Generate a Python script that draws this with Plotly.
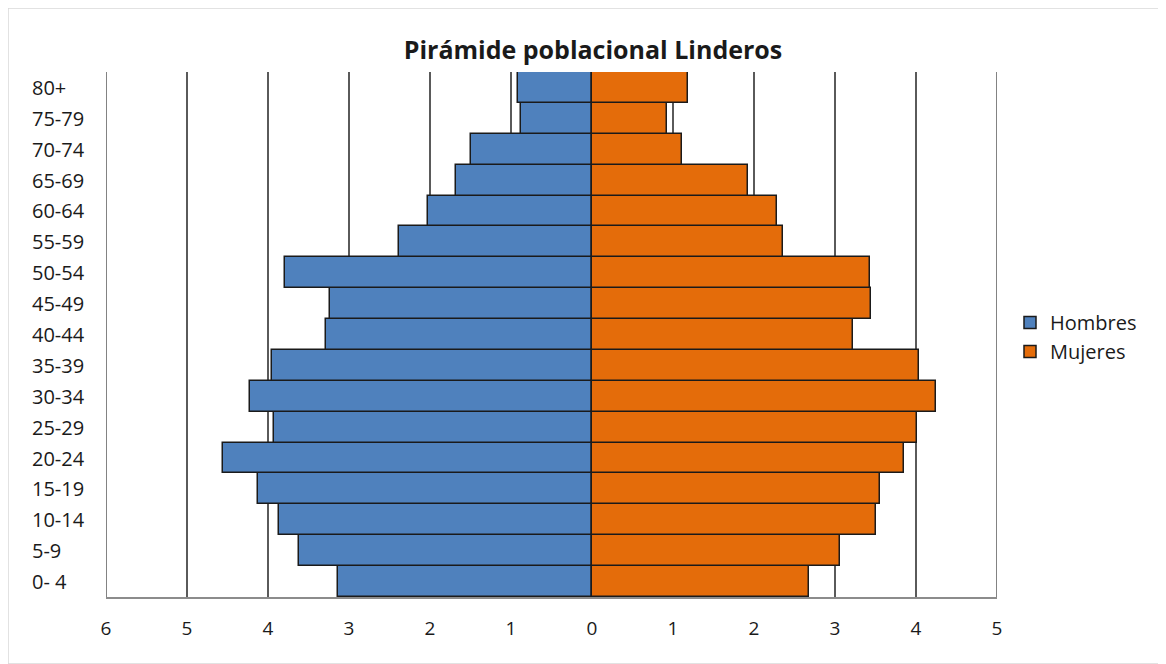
import plotly.graph_objects as go

age_groups = ["0- 4", "5-9", "10-14", "15-19", "20-24", "25-29", "30-34", "35-39",
              "40-44", "45-49", "50-54", "55-59", "60-64", "65-69", "70-74", "75-79", "80+"]
hombres = [3.14, 3.62, 3.86, 4.12, 4.56, 3.93, 4.22, 3.95,
           3.28, 3.24, 3.79, 2.38, 2.02, 1.68, 1.50, 0.88, 0.91]
mujeres = [2.68, 3.06, 3.51, 3.56, 3.85, 4.01, 4.25, 4.04,
           3.22, 3.45, 3.43, 2.36, 2.28, 1.93, 1.11, 0.92, 1.18]
tick_vals = [-6, -5, -4, -3, -2, -1, 0, 1, 2, 3, 4, 5]
tick_text = ["6", "5", "4", "3", "2", "1", "0", "1", "2", "3", "4", "5"]
title_text = "Pirámide poblacional Linderos"

OFF = 8  # page body margin
W, H = 1166 - OFF, 664 - OFF
L, R, T, B = 106 - OFF, 997 - OFF, 72 - OFF, 597 - OFF
pw, ph = R - L, B - T

def px_x(px):
    return (px - OFF - L) / pw

def px_y(py):
    return (B - (py - OFF)) / ph

fig = go.Figure()
fig.add_trace(go.Bar(
    y=age_groups, x=[-v for v in hombres], orientation="h", name="Hombres",
    marker=dict(color="#4F81BD", line=dict(color="#1a1a1a", width=1.5)),
    customdata=hombres, hovertemplate="%{y}: %{customdata}<extra>Hombres</extra>",
))
fig.add_trace(go.Bar(
    y=age_groups, x=mujeres, orientation="h", name="Mujeres",
    marker=dict(color="#E46C0A", line=dict(color="#1a1a1a", width=1.5)),
    hovertemplate="%{y}: %{x}<extra>Mujeres</extra>",
))

font_family = "Open Sans, Liberation Sans, sans-serif"

annotations = []
for g in age_groups:
    annotations.append(dict(
        x=px_x(30), xref="paper", y=g, yref="y", text=g, showarrow=False,
        xanchor="left", yanchor="middle",
        font=dict(family=font_family, size=20, color="#1a1a1a"),
    ))

shapes = [dict(type="rect", xref="paper", yref="paper",
               x0=px_x(8), x1=px_x(1164), y0=px_y(664), y1=px_y(8),
               line=dict(color="#d9d9d9", width=1.5), fillcolor="rgba(0,0,0,0)", layer="below")]
for xv in (tick_vals[0], tick_vals[-1]):
    shapes.append(dict(type="line", xref="x", yref="paper", x0=xv, x1=xv, y0=0, y1=1,
                       line=dict(color="#5a5a5a", width=1.5), layer="below"))

fig.update_layout(
    width=W, height=H,
    margin=dict(l=L, r=W - R, t=T, b=H - B, pad=0),
    paper_bgcolor="white", plot_bgcolor="white",
    barmode="overlay", bargap=0,
    title=dict(text="<b>" + title_text + "</b>", x=(593 - OFF) / W, xref="container", xanchor="center",
               y=1 - (50 - OFF) / H, yref="container", yanchor="middle",
               font=dict(family=font_family, size=25, color="#1a1a1a")),
    xaxis=dict(range=[-6, 5], tickmode="array", tickvals=tick_vals, ticktext=tick_text,
               showgrid=True, gridcolor="#5a5a5a", gridwidth=1.5, zeroline=False,
               showline=True, linecolor="#8c8c8c", linewidth=1.5,
               ticks="outside", ticklen=13, tickcolor="rgba(0,0,0,0)",
               tickfont=dict(family=font_family, size=19, color="#1a1a1a"),
               fixedrange=True),
    yaxis=dict(categoryorder="array", categoryarray=age_groups, showticklabels=False,
               showgrid=False, zeroline=False, showline=False, fixedrange=True,
               range=[-0.5, len(age_groups) - 0.5]),
    legend=dict(x=px_x(1010), y=px_y(337), xanchor="left", yanchor="middle",
                font=dict(family=font_family, size=20, color="#1a1a1a"),
                bgcolor="rgba(0,0,0,0)", itemwidth=30, tracegroupgap=0),
    annotations=annotations,
    shapes=shapes,
    showlegend=True,
)

fig.write_html("out.html")
